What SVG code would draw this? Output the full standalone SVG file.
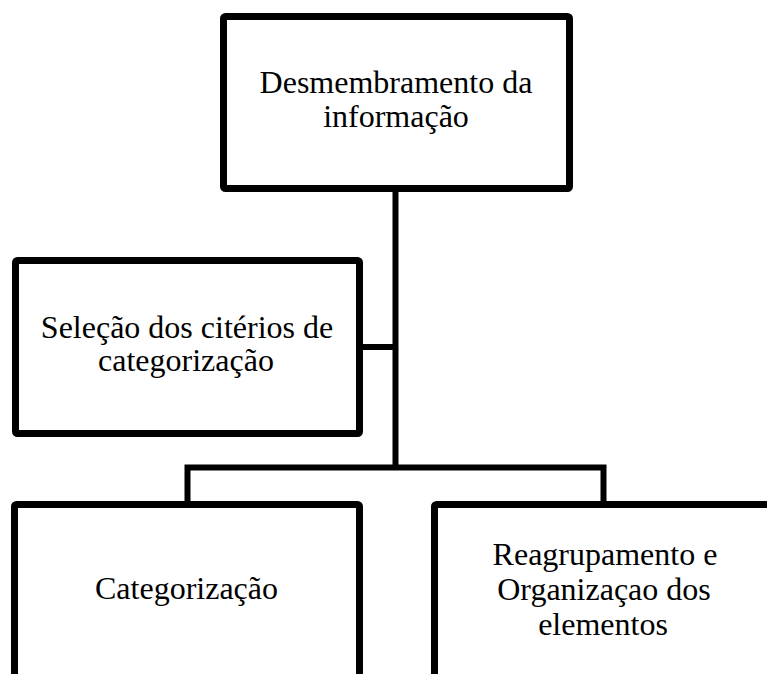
<svg xmlns="http://www.w3.org/2000/svg" width="767" height="674" viewBox="0 0 767 674">
<style>
.box{fill:#fff;stroke:#000;stroke-width:7;rx:2;}
.lbl{font-family:"Liberation Serif","Times New Roman",serif;font-size:32px;fill:#000;text-anchor:middle;}
.conn{fill:none;stroke:#000;stroke-width:6;}
</style>
<rect width="767" height="674" fill="#fff"/>
<g id="connectors">
<path class="conn" d="M395.5 192 V470"/>
<path class="conn" d="M362 347 H398"/>
<path class="conn" d="M187.5 504 V467.5 H603.5 V504"/>
</g>
<g id="n1">
<rect class="box" x="223.5" y="16.5" width="346" height="172"/>
<text class="lbl" x="396" y="93">Desmembramento da</text>
<text class="lbl" x="396" y="127">informação</text>
</g>
<g id="n2">
<rect class="box" x="15.5" y="260.5" width="344" height="173"/>
<text class="lbl" x="187" y="338">Seleção dos citérios de</text>
<text class="lbl" x="186" y="371">categorização</text>
</g>
<g id="n3">
<rect class="box" x="14.5" y="504.5" width="345" height="200"/>
<text class="lbl" x="186.5" y="599">Categorização</text>
</g>
<g id="n4">
<rect class="box" x="434.5" y="504.5" width="400" height="200"/>
<text class="lbl" x="605" y="565">Reagrupamento e</text>
<text class="lbl" x="604" y="600">Organizaçao dos</text>
<text class="lbl" x="603" y="635">elementos</text>
</g>
</svg>
